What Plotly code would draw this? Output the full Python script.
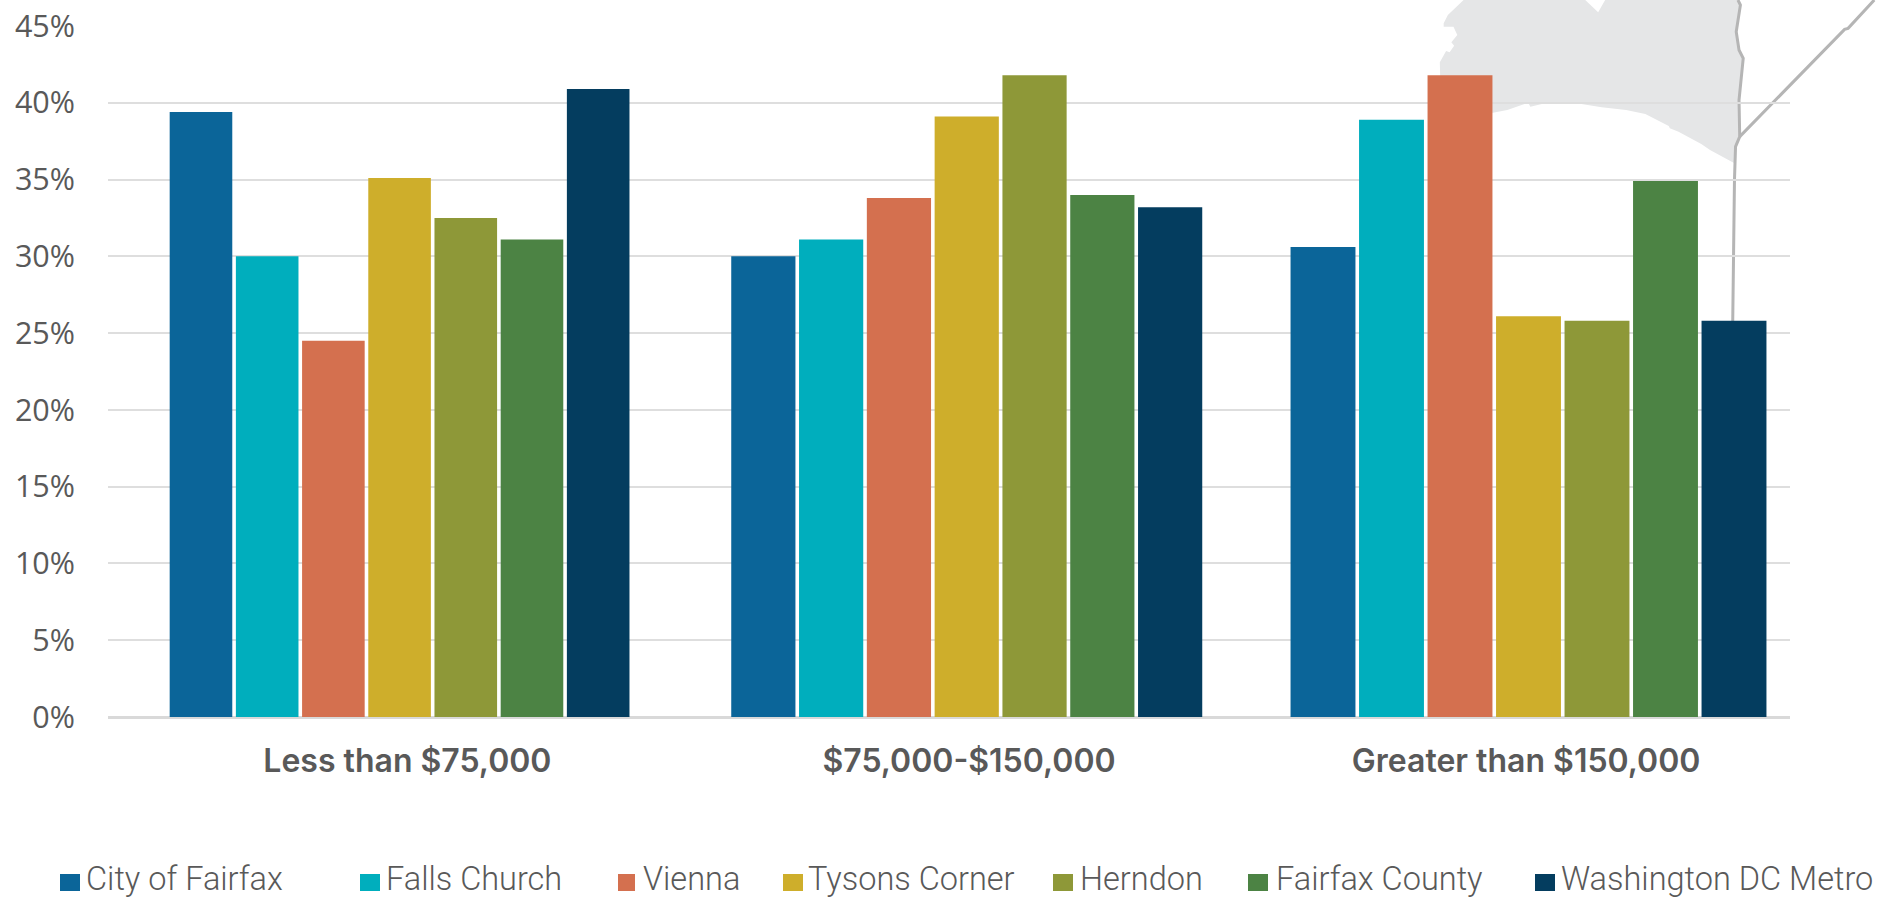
import plotly.graph_objects as go

categories = ["Less than $75,000", "$75,000-$150,000", "Greater than $150,000"]
city_of_fairfax = [39.4, 30.0, 30.6]
falls_church = [30.0, 31.1, 38.9]
vienna = [24.5, 33.8, 41.8]
tysons_corner = [35.1, 39.1, 26.1]
herndon = [32.5, 41.8, 25.8]
fairfax_county = [31.1, 34.0, 34.9]
dc_metro = [40.9, 33.2, 25.8]

series_names = ["City of Fairfax", "Falls Church", "Vienna", "Tysons Corner",
                "Herndon", "Fairfax County", "Washington DC Metro"]
series_values = [city_of_fairfax, falls_church, vienna, tysons_corner,
                 herndon, fairfax_county, dc_metro]
colors = ["#0B6599", "#00AEBD", "#D4704F", "#CEAE2B", "#8E9838", "#4C8344", "#043D5F"]
y_ticks = [0, 5, 10, 15, 20, 25, 30, 35, 40, 45]

W, H = 1898, 901
L, R, T, B = 108, 1790, 26, 717
X_MIN, X_MAX = -0.518, 2.465
UNIT = (R - L) / (X_MAX - X_MIN)

# layout of the groups, full-size pixels: the reference's groups differ slightly in width
group_slot = [0, 1, 2]
group_shift_px = [-0.5, 2.8, 0.7]
group_pitch_px = [66.2, 67.8, 68.5]
bar_gap_px = 3.6
label_pos = [0.013, 1.009, 1.997]


def px(x):
    return (x - L) / (R - L)


def py(y):
    return (B - y) / (B - T)


def path(points, close=False):
    s = "M" + " L".join(f"{px(x):.5f},{py(y):.5f}" for x, y in points)
    return s + (" Z" if close else "")


def bg(zx, zy):
    return (1350 + zx / 2.861, zy / 3)


region = [bg(*p) for p in [
    (325, 0), (280, 45), (268, 70), (268, 80), (296, 80), (307, 105), (290, 127), (298, 137),
    (285, 157), (275, 153), (257, 187), (258, 230), (300, 340), (409, 338), (450, 330),
    (510, 308), (516, 320), (570, 307), (640, 308), (720, 322), (790, 330), (845, 342),
    (912, 378), (915, 385), (940, 395), (1005, 432), (1030, 450), (1100, 490), (1105, 430),
    (1115, 410), (1112, 300), (1125, 175), (1112, 150), (1105, 95), (1117, 15), (1110, 0),
    (730, 0), (710, 37), (673, 0)]]
road_a = [bg(*p) for p in [
    (1110, 0), (1117, 15), (1105, 95), (1113, 150), (1125, 175), (1113, 300), (1115, 410),
    (1103, 440), (1100, 540), (1095, 965)]]
road_b = [bg(*p) for p in [(1115, 410), (1415, 88), (1425, 85), (1500, 0)]]

fig = go.Figure()
for i, (name, vals, col) in enumerate(zip(series_names, series_values, colors)):
    widths = [(p - bar_gap_px) / UNIT for p in group_pitch_px]
    offsets = [(s + (i - 3) * p - (p - bar_gap_px) / 2) / UNIT
               for s, p in zip(group_shift_px, group_pitch_px)]
    fig.add_trace(go.Bar(name=name, x=group_slot, y=vals, width=widths, offset=offsets,
                         marker=dict(color=col, line_width=0)))

shapes = [
    dict(type="path", xref="paper", yref="paper", layer="below", path=path(region, True),
         fillcolor="#E5E6E7", line_width=0),
    dict(type="path", xref="paper", yref="paper", layer="between", path=path(road_a),
         line=dict(color="#B5B5B5", width=3)),
    dict(type="path", xref="paper", yref="paper", layer="between", path=path(road_b),
         line=dict(color="#B5B5B5", width=3)),
]

key_left = [60, 360, 618, 783, 1053, 1248, 1535]
key_right = [80, 380, 635, 803, 1073, 1268, 1555]
text_left = [84, 384, 641, 806, 1078, 1274, 1559]
annotations = []
for name, col, k0, k1, t0 in zip(series_names, colors, key_left, key_right, text_left):
    shapes.append(dict(type="rect", xref="paper", yref="paper", x0=px(k0), x1=px(k1),
                       y0=py(891), y1=py(874), fillcolor=col, line_width=0))
    annotations.append(dict(xref="paper", yref="paper", x=px(t0), y=py(879), xanchor="left",
                            yanchor="middle", showarrow=False, text=name,
                            font=dict(family="Roboto", size=32.5, color="#595959", weight=300)))

fig.update_layout(
    width=W, height=H, autosize=False,
    margin=dict(l=L, r=W - R, t=T, b=H - B, pad=0),
    paper_bgcolor="white", plot_bgcolor="rgba(0,0,0,0)",
    barmode="overlay",
    showlegend=False, shapes=shapes, annotations=annotations,
    xaxis=dict(range=[X_MIN, X_MAX], tickmode="array", tickvals=label_pos, ticktext=categories,
               showgrid=False, zeroline=False, showline=False, ticks="", automargin=False,
               ticklabelstandoff=22,
               tickfont=dict(family="Inter", size=32, color="#595959", weight=600)),
    yaxis=dict(range=[0, 45], tickmode="array", tickvals=y_ticks,
               ticktext=[f"{v}%" for v in y_ticks], automargin=False,
               showgrid=True, gridcolor="#DEDEDE", gridwidth=2,
               zeroline=True, zerolinecolor="#D9D9D9", zerolinewidth=3, showline=False,
               ticks="", ticklabelstandoff=32,
               tickfont=dict(family="Open Sans", size=30.5, color="#595959")),
)

fig.write_html("out.html", config={"displayModeBar": False},
               post_script="document.body.style.margin='0';document.body.style.overflow='hidden';")
